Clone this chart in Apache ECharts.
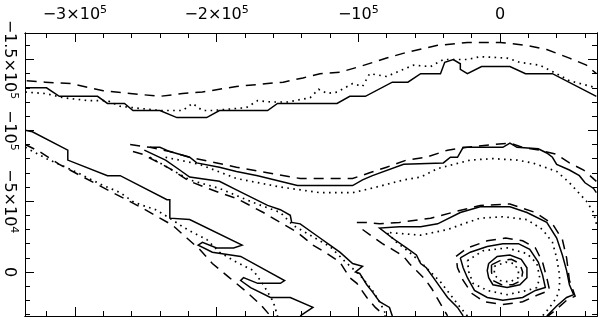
<!DOCTYPE html>
<html>
<head>
<meta charset="utf-8">
<script src="https://cdn.jsdelivr.net/npm/echarts@6/dist/echarts.min.js"></script>
<style>
  html, body { margin: 0; padding: 0; background: #fff; }
  #chart { width: 600px; height: 321px; }
</style>
</head>
<body>
<div id="chart"></div>
<script>
// units: 10^3, x and y share the same scale
const xRange = [-335.2, 68.45];
const yRange = [-168.7, 31.05];
const xMajor = [-300, -200, -100, 0];
const xMinor = [-320, -280, -260, -240, -220, -180, -160, -140, -120, -80, -60, -40, -20, 20, 40, 60];
const yMajor = [-150, -100, -50, 0];
const yMinor = [-160, -140, -130, -120, -110, -90, -80, -70, -60, -40, -30, -20, -10, 10, 20, 30];
const xTickLabels = [['−3×10', '5'], ['−2×10', '5'], ['−10', '5'], ['0', '']];
const yTickLabels = [['−1.5×10', '5'], ['−10', '5'], ['−5×10', '4'], ['0', '']];

// top band
const topDashed = [[-334,-135],[-321,-134],[-303,-133],[-280,-128],[-261,-126],[-240,-124],[-224,-126],[-210,-127],[-186,-131],[-164,-133],[-153,-134],[-139,-137],[-127,-140],[-113,-141],[-99,-145],[-80,-151],[-66,-155],[-44,-160],[-23,-162],[0,-162],[19,-160],[33,-157],[49,-151],[61,-146],[68,-140]];
const topSolid = [[-335,-130],[-320,-130],[-311,-124],[-284,-124],[-277,-119],[-265,-119],[-259,-114],[-240,-114],[-228,-109],[-207,-109],[-198,-114],[-164,-114],[-157,-119],[-115,-119],[-106,-124],[-95,-124],[-76,-134],[-65,-134],[-56,-140],[-42,-140],[-39,-148],[-33,-150],[-28,-147],[-28,-143],[-23,-140],[-13,-145],[7,-145],[18,-140],[37,-140],[68,-124]];
const topDotted = [[-335,-127],[-321,-126],[-308,-123],[-291,-121],[-277,-121],[-268,-117],[-259,-116],[-240,-114],[-224,-114],[-217,-119],[-210,-114],[-203,-114],[-179,-116],[-171,-121],[-162,-120],[-150,-120],[-134,-123],[-128,-129],[-122,-126],[-115,-127],[-104,-133],[-97,-131],[-92,-140],[-80,-138],[-73,-141],[-61,-146],[-49,-145],[-40,-150],[-23,-150],[-14,-152],[5,-151],[14,-148],[28,-146],[40,-140],[49,-135],[68,-130]];

// middle band
const midDashed = [[-261,-90],[-247,-88],[-233,-85],[-219,-81],[-205,-78],[-186,-74],[-169,-71],[-141,-66],[-120,-66],[-104,-66],[-92,-70],[-80,-74],[-66,-79],[-52,-81],[-37,-86],[-23,-88],[-5,-90],[7,-91],[16,-88],[28,-86],[40,-83],[49,-77],[59,-72],[68,-64]];
const midSolid = [[-247,-88],[-240,-88],[-233,-85],[-219,-81],[-214,-77],[-198,-74],[-186,-71],[-171,-68],[-143,-61],[-104,-61],[-97,-65],[-90,-68],[-68,-76],[-40,-77],[-35,-81],[-30,-81],[-26,-88],[-21,-88],[2,-88],[7,-91],[12,-88],[27,-87],[33,-84],[37,-81],[40,-76],[49,-72],[56,-68],[60,-63],[66,-59],[68,-56]];
const midDotted = [[-236,-81],[-212,-76],[-186,-66],[-155,-60],[-127,-56],[-104,-56],[-87,-60],[-68,-65],[-56,-67],[-44,-73],[-21,-79],[-5,-80],[12,-79],[23,-77],[40,-71],[49,-63],[61,-50],[66,-42],[68,-34]];

// diagonal band
const diagSolid = [[-251,-86],[-236,-79],[-226,-72],[-219,-67],[-198,-64],[-186,-58],[-164,-47],[-155,-44],[-148,-40],[-147,-35],[-141,-34],[-127,-24],[-120,-19],[-113,-14],[-104,-6],[-97,-4],[-102,0],[-99,1],[-94,9],[-90,14],[-85,21],[-78,25],[-76,31]];
const diagDotted = [[-247,-81],[-219,-65],[-198,-59],[-174,-49],[-155,-42],[-146,-33],[-134,-26],[-120,-18],[-109,-7],[-99,2],[-90,13],[-85,21],[-80,31]];
const diagDashed = [[-259,-85],[-252,-83],[-233,-73],[-219,-64],[-198,-56],[-186,-52],[-167,-42],[-155,-35],[-143,-28],[-132,-19],[-122,-13],[-113,-7],[-106,4],[-101,8],[-94,18],[-88,25],[-80,32]];

// lower left fingers
const leftSolid = [[-335,-100],[-330,-99],[-305,-86],[-305,-79],[-277,-68],[-268,-68],[-235,-51],[-233,-51],[-233,-38],[-219,-37],[-182,-19],[-188,-17],[-200,-17],[-210,-21],[-213,-19],[-203,-14],[-183,-11],[-152,6],[-155,8],[-171,8],[-181,4],[-183,6],[-176,11],[-162,18],[-148,18],[-132,25],[-141,31]];
const leftDashed = [[-335,-90],[-325,-85],[-311,-76],[-296,-68],[-277,-58],[-254,-46],[-231,-33],[-221,-24],[-212,-16],[-203,-6],[-191,4],[-180,13],[-169,23],[-162,31]];
const leftDotted = [[-335,-88],[-320,-80],[-311,-76],[-300,-71],[-282,-62],[-268,-56],[-258,-49],[-243,-44],[-233,-38],[-224,-32],[-217,-28],[-207,-23],[-198,-14],[-186,-7],[-174,-1],[-167,9],[-160,21],[-157,31]];

// eye, outer level
const eyeOuterSolid = [[-26,31],[-30,25],[-37,18],[-42,11],[-47,4],[-52,-3],[-56,-6],[-59,-12],[-66,-17],[-76,-24],[-85,-31],[-71,-32],[-56,-32],[-44,-34],[-28,-42],[-14,-46],[7,-46],[19,-42],[33,-35],[40,-24],[44,-12],[47,-1],[49,9],[52,16],[47,18],[40,24],[33,31]];
const eyeOuterDashedTop = [[-101,-35],[-94,-35],[-85,-34],[-71,-35],[-49,-38],[-30,-43],[-14,-47],[7,-48],[25,-42],[37,-34],[44,-23],[47,-10],[49,6],[53,17],[47,20],[39,27],[34,31]];
const eyeOuterDashedLeft = [[-97,-30],[-90,-25],[-83,-20],[-76,-16],[-68,-11],[-64,-6],[-59,-1],[-53,5],[-48,12],[-44,19],[-40,26],[-37,31]];
const eyeOuterDotted = [[-23,31],[-28,25],[-35,16],[-42,7],[-49,0],[-56,-7],[-64,-14],[-73,-21],[-80,-28],[-56,-26],[-37,-30],[-23,-35],[-14,-38],[2,-39],[19,-37],[30,-30],[37,-21],[40,-10],[42,2],[42,11],[40,18],[35,25],[30,31]];

// eye, middle ring
const ringSolid = [[-28,-10],[-21,-14],[-9,-18],[2,-20],[13,-20],[21,-16],[27,-7],[30,2],[32,11],[25,13],[16,18],[2,20],[-9,18],[-18,13],[-23,4],[-26,-3],[-28,-10]];
const ringDashed = [[-31,-11],[-23,-17],[-9,-22],[4,-24],[16,-22],[25,-17],[30,-7],[33,4],[35,13],[27,16],[16,21],[2,23],[-11,21],[-20,15],[-26,6],[-30,-3],[-31,-11]];
const ringDotted = [[-23,-8],[-12,-15],[5,-17],[19,-13],[26,-6],[28,4],[26,11],[19,13],[5,16],[-9,13],[-19,8],[-22,0],[-23,-8]];

// eye, core
const coreSolid = [[-8,-6],[-2,-11],[7,-12],[15,-9],[19,-3],[19,4],[14,9],[5,11],[-5,9],[-8,4],[-9,-1],[-8,-6]];
const coreDashed = [[-6,-5],[0,-8],[8,-9],[14,-6],[16,0],[15,6],[9,9],[1,9],[-5,6],[-6,0],[-6,-5]];
const coreDotted = [[-4,-4],[4,-7],[10,-6],[13,-1],[13,4],[7,7],[0,6],[-4,2],[-4,-4]];

const solidLines = [topSolid, midSolid, diagSolid, leftSolid, eyeOuterSolid, ringSolid, coreSolid];
const dashedLines = [topDashed, midDashed, diagDashed, leftDashed, eyeOuterDashedTop, eyeOuterDashedLeft, ringDashed, coreDashed];
const dottedLines = [topDotted, midDotted, diagDotted, leftDotted, eyeOuterDotted, ringDotted, coreDotted];

const font = 'DejaVu Sans';
const rich = {
  b: { fontFamily: font, fontSize: 16, color: '#000', lineHeight: 20 },
  s: { fontFamily: font, fontSize: 11, color: '#000', verticalAlign: 'top', lineHeight: 20 }
};
function labelFmt(values, labels) {
  return function (v) {
    const i = values.indexOf(Math.round(v));
    if (i < 0) return '';
    const l = labels[i];
    return l[1] ? '{b|' + l[0] + '}{s|' + l[1] + '}' : '{b|' + l[0] + '}';
  };
}

function makeAxis(pos, range, ticks, len, opts) {
  return Object.assign({
    type: 'value',
    position: pos,
    min: range[0],
    max: range[1],
    axisLine: { show: true, onZero: false, lineStyle: { color: '#000', width: 1 } },
    axisTick: { show: true, inside: true, length: len, customValues: ticks, lineStyle: { color: '#000', width: 1 } },
    axisLabel: { show: false },
    splitLine: { show: false }
  }, opts || {});
}

const xAxes = [
  makeAxis('top', xRange, xMajor, 9, {
    axisLabel: { show: true, customValues: xMajor, margin: 8, formatter: labelFmt(xMajor, xTickLabels), rich: rich }
  }),
  makeAxis('top', xRange, xMinor, 5),
  makeAxis('bottom', xRange, xMajor, 9),
  makeAxis('bottom', xRange, xMinor, 5)
];
const yAxes = [
  makeAxis('left', yRange, yMajor, 9, {
    inverse: true,
    axisLabel: { show: true, customValues: yMajor, rotate: -90, margin: 6, formatter: labelFmt(yMajor, yTickLabels), rich: rich }
  }),
  makeAxis('left', yRange, yMinor, 5, { inverse: true }),
  makeAxis('right', yRange, yMajor, 9, { inverse: true }),
  makeAxis('right', yRange, yMinor, 5, { inverse: true })
];

function lineSeries(data, type, width) {
  return {
    type: 'line',
    data: data,
    xAxisIndex: 0,
    yAxisIndex: 0,
    symbol: 'none',
    silent: true,
    clip: true,
    lineStyle: { color: '#000', width: width, type: type, cap: 'butt', join: 'miter' }
  };
}

const series = [];
solidLines.forEach(d => series.push(lineSeries(d, 'solid', 1.5)));
dashedLines.forEach(d => series.push(lineSeries(d, [10, 7], 1.5)));
dottedLines.forEach(d => series.push(lineSeries(d, [1.6, 4.4], 1.7)));

const chart = echarts.init(document.getElementById('chart'));
chart.setOption({
  animation: false,
  backgroundColor: '#fff',
  grid: { left: 25, top: 33, right: 3, bottom: 5 },
  xAxis: xAxes,
  yAxis: yAxes,
  series: series
});
</script>
</body>
</html>
